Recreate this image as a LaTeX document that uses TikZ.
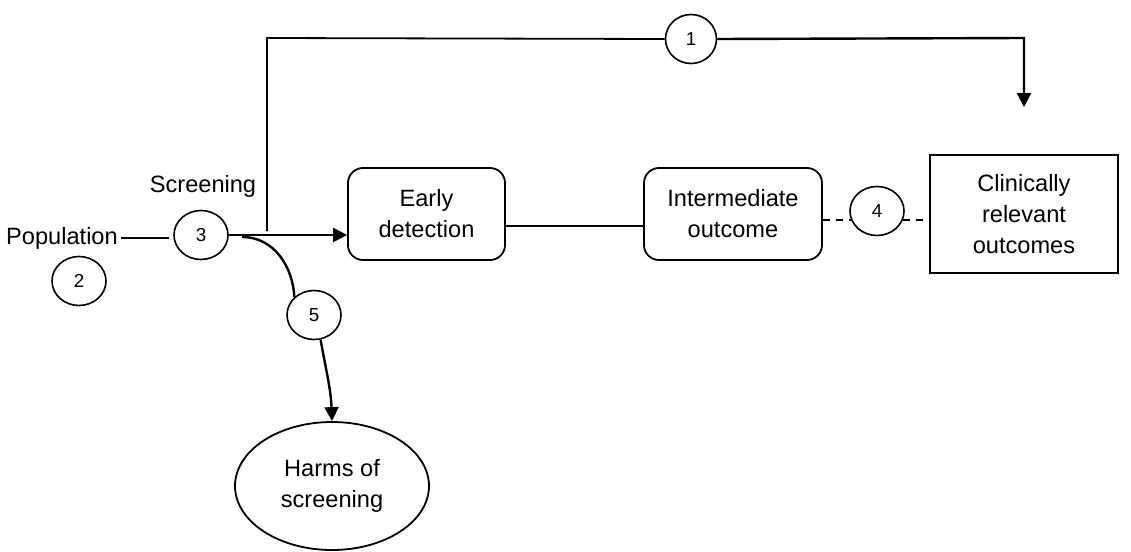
\documentclass[tikz,border=0pt]{standalone}
\usepackage{fontspec}
\setmainfont{Liberation Sans}
\usetikzlibrary{shapes.geometric,arrows.meta}
\begin{document}
\begin{tikzpicture}[x=0.5pt,y=-0.5pt,
  every node/.style={font=\fontsize{11.8}{15.5}\selectfont, align=center},
  num/.style={draw, line width=0.8pt, ellipse, inner sep=0pt, minimum width=27pt, minimum height=24.5pt, font=\fontsize{9.4}{11}\selectfont},
  rbox/.style={draw, line width=0.9pt, rounded corners=7.5pt, minimum height=46pt, inner sep=0pt},
  thick line/.style={line width=1.2pt},
  arr/.style={thick line, -{Triangle[length=7pt,width=7pt]}},
  dashline/.style={line width=0.9pt, dash pattern=on 3.5pt off 3pt}]
\useasboundingbox (0,0) rectangle (1131,552);
\node (pop) at (62,238) {Population};
\node[num] (c3) at (201,235) {3};
\node[num] (c2) at (79,281) {2};
\node (scr) at (203,186) {Screening};
\node[rbox, minimum width=78.5pt] (ed) at (426.5,214) {Early\\detection};
\node[rbox, minimum width=89pt] (im) at (733,214) {Intermediate\\outcome};
\node[draw, line width=0.9pt, minimum width=94pt, minimum height=59pt, inner sep=0pt] (cr) at (1024,214) {Clinically\\relevant\\outcomes};
\node[num] (c4) at (877,211) {4};
\node[num, minimum width=25.5pt] (c1) at (691,39) {1};
\node[num] (c5) at (314,315) {5};
\node[draw, line width=0.9pt, ellipse, minimum width=97pt, minimum height=64pt, inner sep=0pt] (harm) at (332,486) {Harms of\\screening};
\coordinate (vb) at (267,231);
\coordinate (vt) at (267,38);
\coordinate (tr) at (1024,38);
\coordinate (a1) at (1024,107);
\coordinate (s5) at (242,237);
% connectors
\draw[thick line] ([xshift=-2pt]pop.east) -- ([xshift=-2pt]pop.east -| c3.west);
\draw[arr] (c3.east) -- (c3.east -| ed.west);
\draw[line width=0.9pt] (vb) -- (vt) -- (c1.west);
\draw[arr] (c1.east) -- (tr) -- (a1);
\draw[line width=0.9pt] ([yshift=-6pt]ed.east) -- ([yshift=-6pt]im.west);
\draw[dashline] ([yshift=-3pt]im.east) -- ([yshift=-3pt,xshift=1pt]im.east -| c4.west);
\draw[dashline] ([yshift=-3pt,xshift=-1pt]cr.west -| c4.east) -- ([yshift=-3pt]cr.west);
\draw[thick line] (s5) .. controls (275,237) and (293,268) .. (c5.north west);
\draw[arr] (c5.-75) to[out=-80,in=92] (harm.north);
\end{tikzpicture}
\end{document}
